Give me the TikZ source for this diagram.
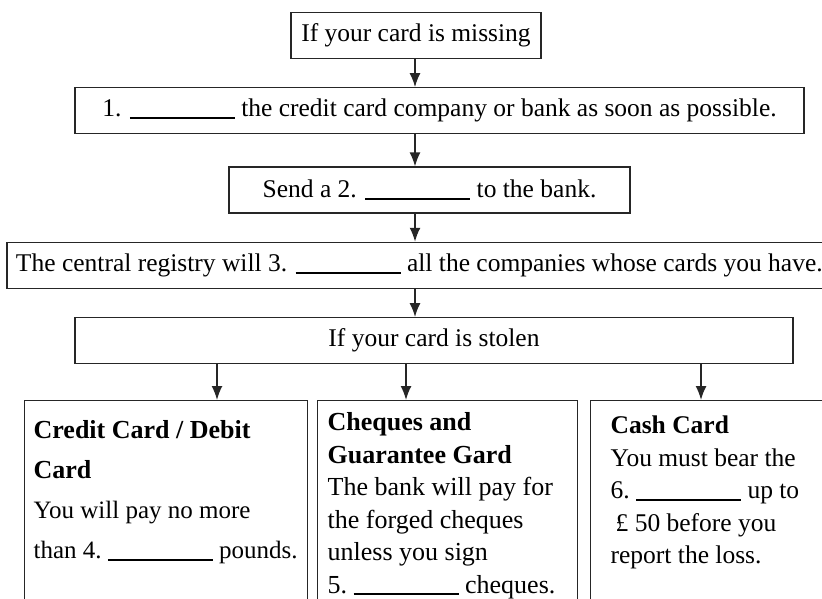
\documentclass[tikz,border=0pt]{standalone}
\usepackage{fontspec}
\setmainfont{Liberation Serif}
\usepackage{tikz}
\usetikzlibrary{arrows.meta,positioning}

\newcommand{\blank}{\rule[-2pt]{105pt}{2pt}}

\begin{document}
\begin{tikzpicture}[x=1pt, y=-1pt]
        % styles for the boxes and the arrows
        \tikzstyle{stepbox} = [rectangle, minimum height=46pt, inner sep=0pt, text centered, draw=black!85, line width=1.3pt, font=\fontsize{25.5}{30}\selectfont]
        \tikzstyle{cardbox} = [rectangle, anchor=north west, align=flush left, draw=black!85, line width=1.3pt, text height=20pt, text depth=240pt]
        \tikzstyle{arrow} = [line width=1.6pt, draw=black!85, -{Latex[length=14pt,width=11pt]}]

        \useasboundingbox (0,0) rectangle (822,598);
        \clip (0,0) rectangle (822,598);

        % place the nodes
        \node (missing) [stepbox, minimum width=250pt] at (416,35.5) {If your card is missing};
        \node (contact) [stepbox, minimum width=729pt, below=28pt of missing, xshift=23.5pt] {1. \blank{} the credit card company or bank as soon as possible.};
        \node (send) [stepbox, minimum width=401pt, below=32pt of contact, xshift=-10pt] {Send a 2. \blank{} to the bank.};
        \node (registry) [stepbox, text width=827pt, align=flush left, inner xsep=9pt, below=28pt of send] {The central registry will 3. \blank{} all the companies whose cards you have.};
        \node (stolen) [stepbox, minimum width=718pt, below=28pt of registry, xshift=4.5pt] {If your card is stolen};

        \node (credit) [cardbox, text width=265pt, inner xsep=9pt, inner ysep=18pt, font=\fontsize{25}{40}\selectfont] at (24,400)
            {\textbf{\fontsize{26}{40}\selectfont Credit Card / Debit}\\ \textbf{\fontsize{26}{40}\selectfont Card}\\ You will pay no more\\ than~4.~\blank~pounds.};
        \node (cheques) [cardbox, text width=240pt, inner xsep=10pt, inner ysep=10pt, font=\fontsize{26}{32.5}\selectfont] at (317,400)
            {\textbf{Cheques and}\\ \textbf{Guarantee Gard}\\ The bank will pay for\\ the forged cheques\\ unless you sign\\ 5.~\blank~cheques.};
        \node (cash) [cardbox, text width=250pt, inner xsep=20pt, inner ysep=13pt, font=\fontsize{25.5}{32.5}\selectfont] at (590,400)
            {\textbf{Cash Card}\\ You must bear the\\ 6.~\blank~up to\\ \hspace{5pt}£ 50 before you\\ report the loss.};

        % where the arrows drop
        \coordinate (spine) at (415,0);
        \coordinate (leftdrop) at (217,0);
        \coordinate (middrop) at (406,0);
        \coordinate (rightdrop) at (701,0);

        % draw the arrows
        \draw [arrow] (spine |- missing.south) -- (spine |- contact.north);
        \draw [arrow] (spine |- contact.south) -- (spine |- send.north);
        \draw [arrow] (spine |- send.south) -- (spine |- registry.north);
        \draw [arrow] (spine |- registry.south) -- (spine |- stolen.north);
        \draw [arrow] (leftdrop |- stolen.south) -- (leftdrop |- credit.north);
        \draw [arrow] (middrop |- stolen.south) -- (middrop |- cheques.north);
        \draw [arrow] (rightdrop |- stolen.south) -- (rightdrop |- cash.north);
    \end{tikzpicture}
\end{document}
